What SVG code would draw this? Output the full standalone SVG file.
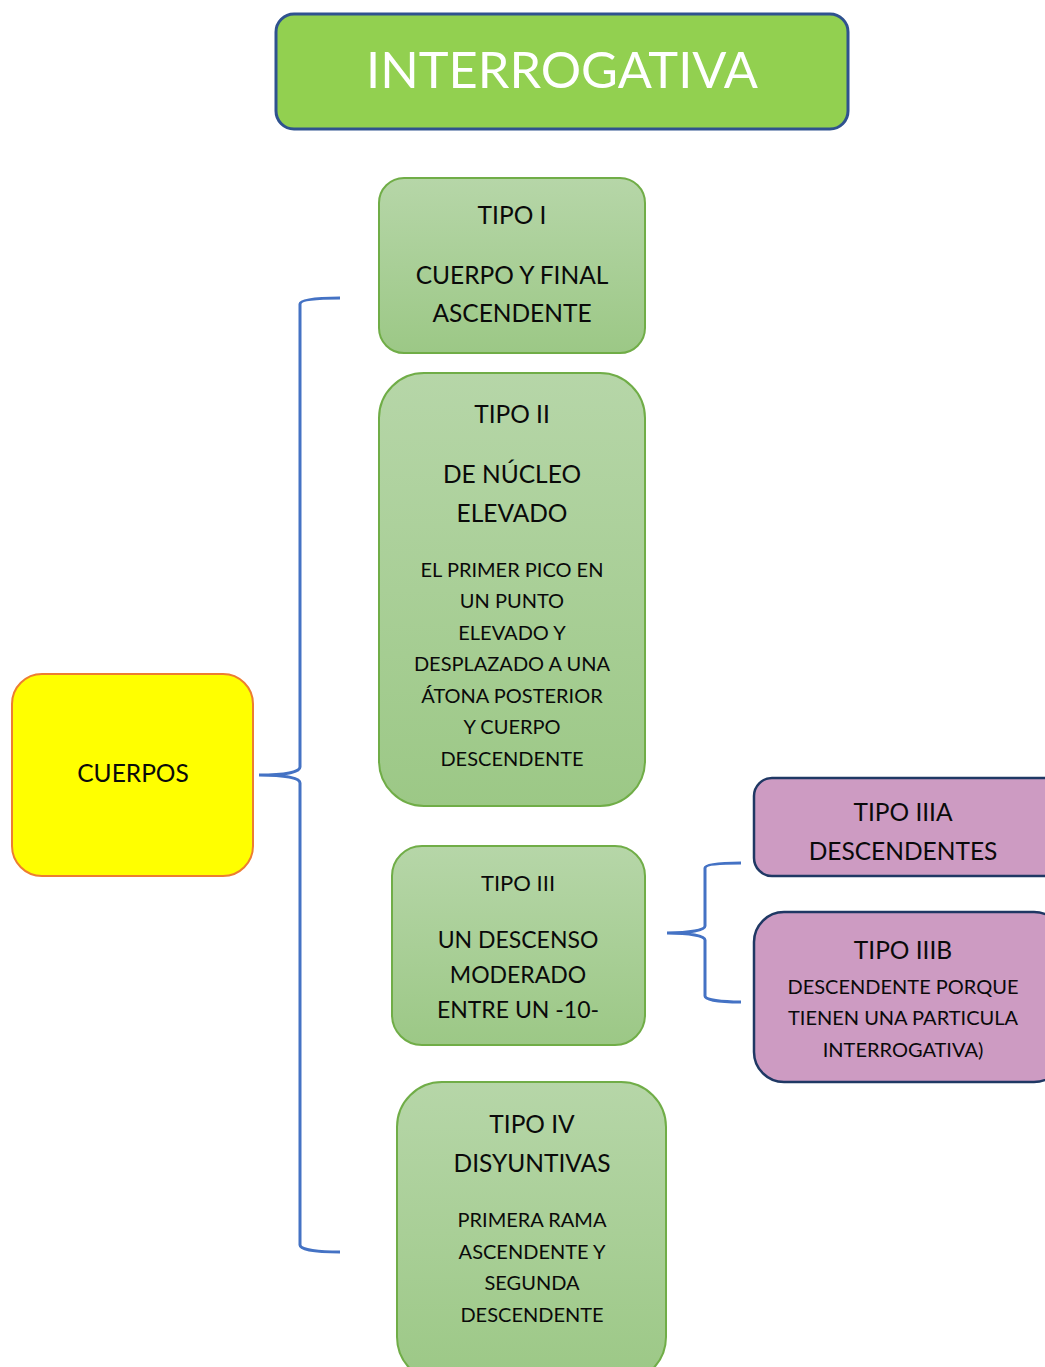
<svg xmlns="http://www.w3.org/2000/svg" width="1045" height="1367" viewBox="0 0 1045 1367">
<defs>
<linearGradient id="g" x1="0" y1="0" x2="0" y2="1">
<stop offset="0" stop-color="#b6d6a8"/>
<stop offset="1" stop-color="#9cc886"/>
</linearGradient>
<style>
text{font-family:Lato,"Liberation Sans",sans-serif;fill:#0a0a0a;text-anchor:middle}
.green{fill:url(#g);stroke:#70ad47;stroke-width:2}
.purple{fill:#cd9bc2;stroke:#1f3864;stroke-width:2.5}
.big{font-size:24.5px}
.sm{font-size:20px}
.brace{fill:none;stroke:#4472c4;stroke-width:3}
</style>
</defs>
<rect width="1045" height="1367" fill="#fff"/>
<g id="title">
<rect x="276" y="14" width="572" height="115" rx="18" fill="#92d050" stroke="#2f528f" stroke-width="3"/>
<text x="562" y="88" style="font-size:50.5px;fill:#fff">INTERROGATIVA</text>
</g>
<g id="tipo1">
<rect class="green" x="379" y="178" width="266" height="175" rx="25"/>
<text class="big" x="512" y="224">TIPO I</text>
<text class="big" x="512" y="284">CUERPO Y FINAL</text>
<text class="big" x="512" y="322">ASCENDENTE</text>
</g>
<g id="tipo2">
<rect class="green" x="379" y="373" width="266" height="433" rx="45"/>
<text class="big" x="512" y="423">TIPO II</text>
<text class="big" x="512" y="483">DE NÚCLEO</text>
<text class="big" x="512" y="522">ELEVADO</text>
<text class="sm" x="512" y="577">EL PRIMER PICO EN</text>
<text class="sm" x="512" y="608">UN PUNTO</text>
<text class="sm" x="512" y="640">ELEVADO Y</text>
<text class="sm" x="512" y="671">DESPLAZADO A UNA</text>
<text class="sm" x="512" y="703">ÁTONA POSTERIOR</text>
<text class="sm" x="512" y="734">Y CUERPO</text>
<text class="sm" x="512" y="766">DESCENDENTE</text>
</g>
<g id="tipo3">
<rect class="green" x="392" y="846" width="253" height="199" rx="30"/>
<text class="sm" x="518" y="891" style="font-size:22px">TIPO III</text>
<text class="big" x="518" y="948" style="font-size:23px">UN DESCENSO</text>
<text class="big" x="518" y="983" style="font-size:23px">MODERADO</text>
<text class="big" x="518" y="1018" style="font-size:23px">ENTRE UN -10-</text>
</g>
<g id="tipo4">
<rect class="green" x="397" y="1082" width="269" height="300" rx="45"/>
<text class="big" x="532" y="1133">TIPO IV</text>
<text class="big" x="532" y="1172">DISYUNTIVAS</text>
<text class="sm" x="532" y="1227">PRIMERA RAMA</text>
<text class="sm" x="532" y="1259">ASCENDENTE Y</text>
<text class="sm" x="532" y="1290">SEGUNDA</text>
<text class="sm" x="532" y="1322">DESCENDENTE</text>
</g>
<g id="cuerpos">
<rect x="12" y="674" width="241" height="202" rx="30" fill="#ffff00" stroke="#ed7d31" stroke-width="2"/>
<text class="big" x="133" y="782">CUERPOS</text>
</g>
<g id="tipo3a">
<rect class="purple" x="754" y="778" width="310" height="98" rx="18"/>
<text class="big" x="903" y="821">TIPO IIIA</text>
<text class="big" x="903" y="860">DESCENDENTES</text>
</g>
<g id="tipo3b">
<rect class="purple" x="754" y="912" width="310" height="170" rx="30"/>
<text class="big" x="903" y="959">TIPO IIIB</text>
<text class="sm" x="903" y="994">DESCENDENTE PORQUE</text>
<text class="sm" x="903" y="1025">TIENEN UNA PARTICULA</text>
<text class="sm" x="903" y="1057">INTERROGATIVA)</text>
</g>
<g id="connectors">
<path class="brace" d="M340,298 C320,298 300,299 300,304 L300,767 C300,772 285,775 259,775 C285,775 300,778 300,783 L300,1245 C300,1250 320,1252 340,1252"/>
<path class="brace" d="M741,863 C722,863 705,864 705,868 L705,926 C705,930 690,933 667,933 C690,933 705,936 705,940 L705,996 C705,1000 722,1002 741,1002"/>
</g>
</svg>
